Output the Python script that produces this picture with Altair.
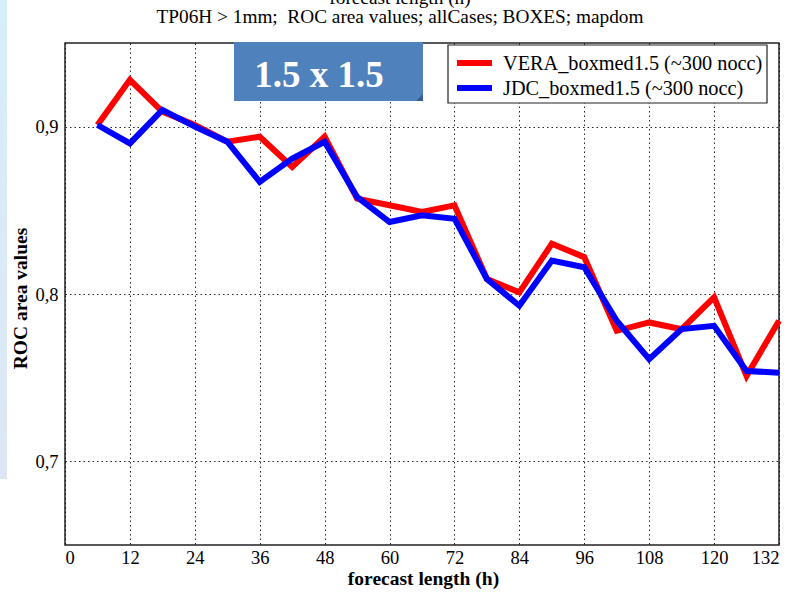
import altair as alt
import pandas as pd

# ---------------- data ----------------
hours = list(range(6, 133, 6))
vera = [0.901, 0.928, 0.909, 0.901, 0.891, 0.894, 0.876, 0.894, 0.857, 0.853, 0.849,
        0.853, 0.809, 0.801, 0.830, 0.822, 0.778, 0.783, 0.779, 0.798, 0.751, 0.784]
jdc = [0.901, 0.890, 0.910, 0.900, 0.891, 0.867, 0.881, 0.891, 0.858, 0.843, 0.847,
       0.845, 0.809, 0.793, 0.820, 0.816, 0.784, 0.761, 0.779, 0.781, 0.754, 0.753]
series_names = ["VERA_boxmed1.5 (~300 nocc)", "JDC_boxmed1.5 (~300 nocc)"]
series_colors = ["#FF0000", "#0000FF"]
x_ticks = list(range(0, 133, 12))
y_ticks = [0.7, 0.8, 0.9]
title_text = "TP06H > 1mm;\u00a0 ROC area values; allCases; BOXES; mapdom"
cut_text = "forecast length (h)"
x_title = "forecast length (h)"
y_title = "ROC area values"
badge_text = "1.5 x 1.5"

FONT = "Liberation Serif"
W, H = 714, 502
PAD = {"left": 65, "top": 43, "right": 16, "bottom": 48}

df = pd.DataFrame({
    "h": hours * 2,
    "v": vera + jdc,
    "s": [series_names[0]] * len(hours) + [series_names[1]] * len(hours),
})
one = pd.DataFrame({"k": [0]})

axis_style = dict(labelFont=FONT, labelFontSize=18.5, labelColor="black",
                  titleFont=FONT, titleFontSize=19.5, titleFontWeight="bold",
                  titleColor="black", ticks=False, domain=False, grid=True,
                  gridColor="black", gridDash=[1.5, 3], gridWidth=1, gridOpacity=0.85)

x_enc = alt.X("h:Q",
              scale=alt.Scale(domain=[0, 132], nice=False, zero=False),
              axis=alt.Axis(values=x_ticks, title=x_title, titleX=358, titleY=39.5,
                            titleAlign="center", titleBaseline="alphabetic",
                            labelPadding=3, **axis_style))
y_enc = alt.Y("v:Q",
              scale=alt.Scale(domain=[0.65, 0.95], nice=False, zero=False),
              axis=alt.Axis(values=y_ticks, title=y_title, titleX=-45, titleY=255,
                            titleAlign="center", titleBaseline="middle",
                            labelPadding=7,
                            labelExpr="replace(format(datum.value, '.1f'), '.', ',')",
                            **axis_style))
c_enc = alt.Color("s:N",
                  scale=alt.Scale(domain=series_names, range=series_colors),
                  legend=None)

line_red = alt.Chart(df).transform_filter(
    alt.datum.s == series_names[0]
).mark_line(strokeWidth=6).encode(x=x_enc, y=y_enc, color=c_enc)
line_blue = alt.Chart(df).transform_filter(
    alt.datum.s == series_names[1]
).mark_line(strokeWidth=6).encode(x=x_enc, y=y_enc, color=c_enc)

# ---- legend (drawn by hand) ----
leg_box = alt.Chart(one).mark_rect(fill="white", stroke="#222", strokeWidth=1.2).encode(
    x=alt.value(383), x2=alt.value(702), y=alt.value(2), y2=alt.value(60))
leg_layers = []
for i, (name, col) in enumerate(zip(series_names, series_colors)):
    yy = 20 + 25 * i
    leg_layers.append(
        alt.Chart(one).mark_rule(color=col, strokeWidth=6).encode(
            x=alt.value(392), x2=alt.value(427), y=alt.value(yy)))
    leg_layers.append(
        alt.Chart(one).mark_text(text=name, font=FONT, fontSize=20.3, color="black",
                                 align="left", baseline="middle").encode(
            x=alt.value(438), y=alt.value(yy + 1)))

strip = alt.Chart(one).mark_rect(
    fill=alt.Gradient(gradient="linear",
                      stops=[alt.GradientStop(color="#D6EEF8", offset=0),
                             alt.GradientStop(color="#DDE6F4", offset=1)],
                      x1=0, x2=0, y1=0, y2=1)
).encode(x=alt.value(-65), x2=alt.value(-58), y=alt.value(-43), y2=alt.value(436))

title = alt.Chart(one).mark_text(
    text=title_text, font=FONT, fontSize=19.3, color="black", align="center",
    baseline="alphabetic"
).encode(x=alt.value(335), y=alt.value(-20))

cut = alt.Chart(one).mark_text(
    text=cut_text, font=FONT, fontSize=19.3, color="black", align="center",
    baseline="alphabetic"
).encode(x=alt.value(335), y=alt.value(-39))

badge = alt.Chart(one).mark_rect(fill="#4F81BD").encode(
    x=alt.value(169), x2=alt.value(358), y=alt.value(-1), y2=alt.value(58))

fold = alt.Chart(one).mark_point(
    shape="M 1 -1 L 1 1 L -1 1 Z", size=49, filled=True, color="#2F5F94", opacity=1
).encode(x=alt.value(354.5), y=alt.value(54.5))

badge_label = alt.Chart(one).mark_text(
    text=badge_text, font=FONT, fontSize=37, fontWeight="bold", color="white",
    align="center", baseline="alphabetic"
).encode(x=alt.value(254), y=alt.value(44))

chart = alt.layer(
    strip, line_red, line_blue, leg_box, *leg_layers, title, cut, badge, fold, badge_label
).properties(
    width=W, height=H, padding=PAD, autosize=alt.AutoSizeParams(type="none"),
    background="white"
).configure_view(
    stroke="#222", strokeWidth=1.5
)

chart.save("out.html", embed_options={"renderer": "svg", "actions": False})
